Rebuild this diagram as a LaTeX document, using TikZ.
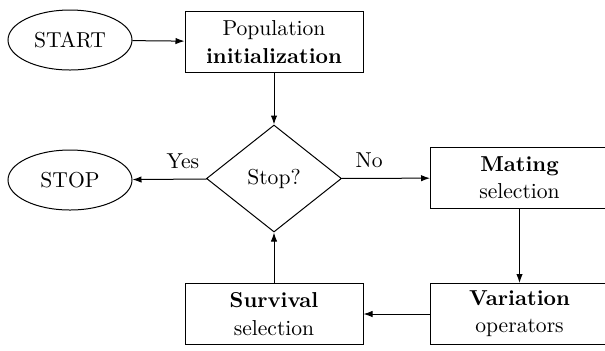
\documentclass[tikz,border=0pt]{standalone}
\usetikzlibrary{shapes.geometric,arrows.meta}
\tikzset{
  every node/.style={font=\fontsize{10.8}{13.6}\selectfont, inner sep=0pt},
  term/.style={draw, ellipse, minimum width=62pt, minimum height=30pt, line width=0.5pt},
  procbox/.style={draw, rectangle, minimum width=89pt, minimum height=30.5pt, align=center, line width=0.5pt},
  decide/.style={draw, diamond, minimum width=67.5pt, minimum height=53.5pt, line width=0.5pt},
  conn/.style={-{Latex[length=4.5pt,width=3.2pt]}, line width=0.5pt},
  lbl/.style={}
}
\begin{document}
\begin{tikzpicture}[x=0.5pt,y=-0.5pt]
\useasboundingbox (0,0) rectangle (605,350);
\node[term] (start) at (70,40) {START};
\node[procbox] (pop) at (274,42) {Population\\\textbf{initialization}};
\node[decide] (stop) at (274,178.5) {Stop?};
\node[term] (end) at (70,180) {STOP};
\node[procbox] (mate) at (519.5,178) {\textbf{Mating}\\selection};
\node[procbox] (vary) at (519.5,314) {\textbf{Variation}\\operators};
\node[procbox] (surv) at (274,314) {\textbf{Survival}\\selection};
\draw[conn] (start) -- (pop);
\draw[conn] (pop) -- (stop);
\draw[conn] (stop) -- node[lbl, pos=0.32, above=5pt] (yes) {Yes} (end);
\draw[conn] (stop) -- node[lbl, pos=0.31, above=5pt] (no) {No} (mate);
\draw[conn] (mate) -- (vary);
\draw[conn] (vary) -- (surv);
\draw[conn] (surv) -- (stop);
\end{tikzpicture}
\end{document}
